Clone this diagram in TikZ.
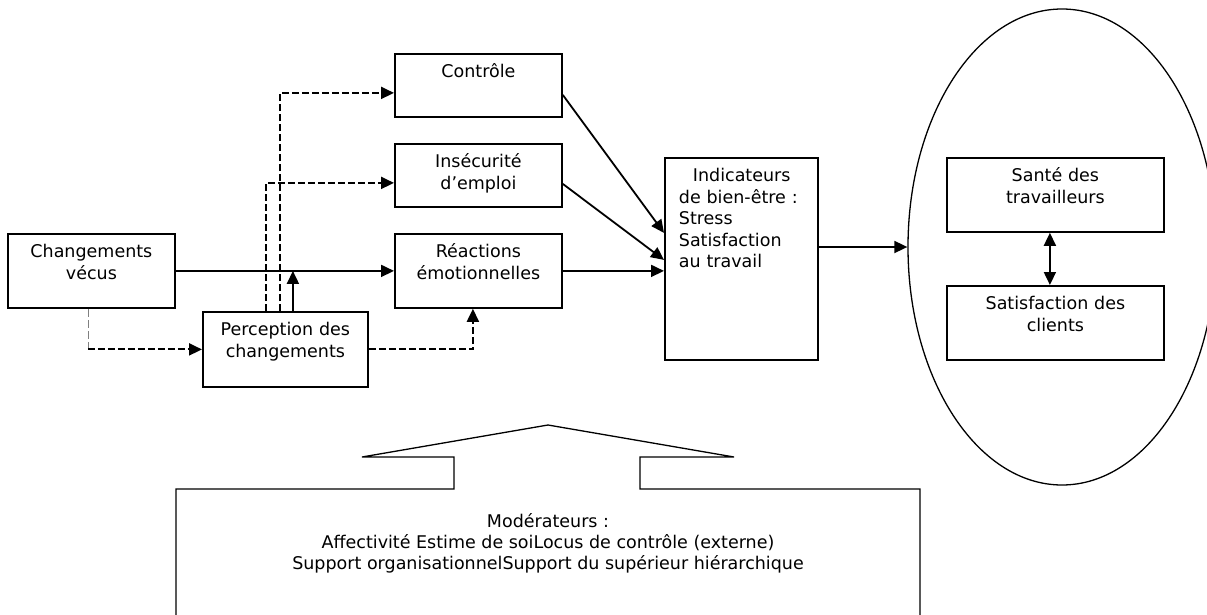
\documentclass[tikz,border=0pt]{standalone}
\usepackage{fontspec}
\setmainfont{DejaVu Sans}
\usetikzlibrary{arrows.meta,shapes.geometric}

\begin{document}
\begin{tikzpicture}[x=1pt, y=-1pt,
    every node/.style={font=\fontsize{17.5}{21.5}\selectfont},
    box/.style={draw, line width=1.8pt, inner sep=0pt, align=center, anchor=north west, text height=24pt},
    arr/.style={line width=1.8pt, -{Triangle[length=13pt,width=12pt]}},
    darr/.style={line width=2pt, dash pattern=on 7pt off 3pt, -{Triangle[length=13pt,width=12pt]}},
    thindash/.style={line width=0.8pt, gray, dash pattern=on 8pt off 3pt}]
    \useasboundingbox (0,0) rectangle (1207,615);

    \node [box, text width=167pt, text depth=50pt] (chg) at (7,233) {Changements\\vécus};
    \node [box, text width=165pt, text depth=51pt] (perc) at (202,311) {Perception des\\changements};
    \node [box, text width=167pt, text depth=39pt] (ctrl) at (394,53) {Contrôle};
    \node [box, text width=167pt, text depth=39pt] (insec) at (394,143) {Insécurité\\d’emploi};
    \node [box, text width=167pt, text depth=50pt] (reac) at (394,233) {Réactions\\émotionnelles};
    \node [box, text width=125pt, text depth=178pt, inner xsep=14pt, align=left] (ind) at (664,157)
        {\hspace*{14pt}Indicateurs\\de bien-être :\\Stress\\Satisfaction\\au travail};
    \node [draw, ellipse, line width=1.3pt, minimum width=308pt, minimum height=476pt, inner sep=0pt] (out) at (1062,247) {};
    \node [box, text width=217pt, text depth=50pt] (sante) at (946,157) {Santé des\\travailleurs};
    \node [box, text width=217pt, text depth=50pt] (satis) at (946,285) {Satisfaction des\\clients};

    \draw [arr] (chg.east) -- (reac.west);
    \draw [arr] ([xshift=7.5pt]perc.north) -- ([xshift=7.5pt]perc.north |- chg.east);
    \draw [darr] ([xshift=-5.5pt]perc.north) |- ([yshift=-7.5pt]ctrl.west);
    \draw [darr] ([xshift=-19.5pt]perc.north) |- ([yshift=-7.5pt]insec.west);
    \coordinate (bend) at ([xshift=-3.5pt]chg.south |- perc.west);
    \draw [thindash] ([xshift=-3.5pt]chg.south) -- (bend);
    \draw [darr] (bend) -- (perc.west);
    \draw [darr] (perc.east) -| ([xshift=-5.5pt]reac.south);

    \draw [arr] ([yshift=-9.5pt]ctrl.east) -- ([yshift=26pt]ind.west);
    \draw [arr] ([yshift=-8.5pt]insec.east) -- ([yshift=-1pt]ind.west);
    \draw [arr] (reac.east) -- ([yshift=-12pt]ind.west);
    \draw [arr] (ind.east |- out.west) -- (out.west);
    \draw [line width=1.8pt, {Triangle[length=13pt,width=12pt]}-{Triangle[length=13pt,width=12pt]}]
        ([xshift=-5.5pt]sante.south) -- ([xshift=-5.5pt]satis.north);

    \draw [line width=1.3pt] (176,620) -- (176,489) -- (454,489) -- (454,457) -- (362,457) -- (548,425)
        -- (734,457) -- (640,457) -- (640,489) -- (920,489) -- (920,620);
    \node [align=center, font=\fontsize{17.5}{21}\selectfont] (mod) at (548,543)
        {Modérateurs :\\Affectivité Estime de soiLocus de contrôle (externe)\\Support organisationnelSupport du supérieur hiérarchique};
\end{tikzpicture}
\end{document}
